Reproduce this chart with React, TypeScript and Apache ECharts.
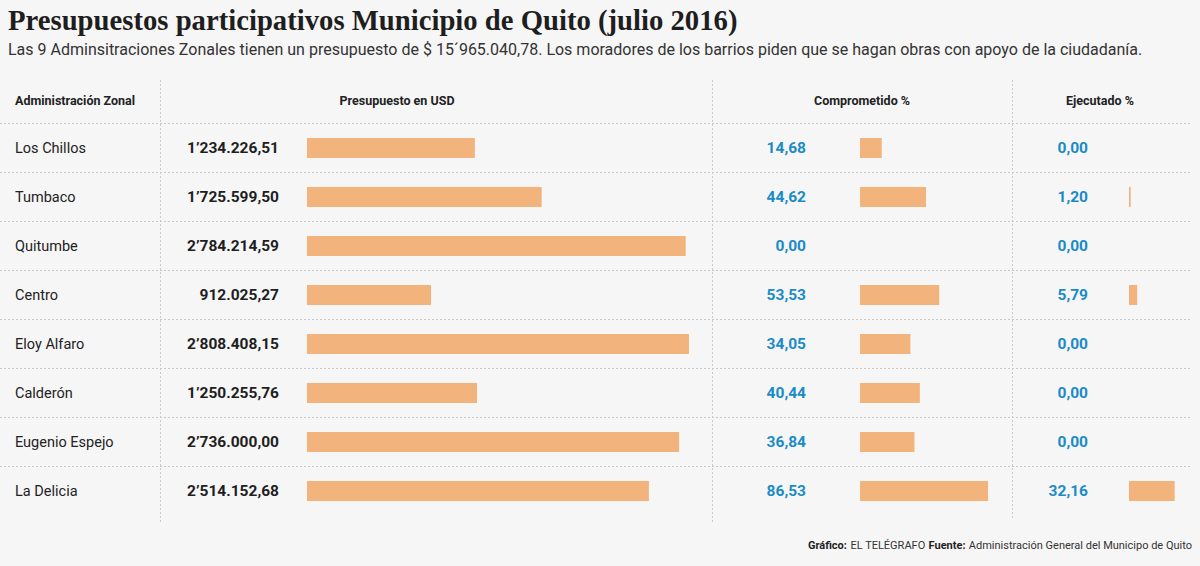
import React, { useEffect, useRef } from "react";
import * as echarts from "echarts";

const zones = ["Los Chillos", "Tumbaco", "Quitumbe", "Centro", "Eloy Alfaro", "Calderón", "Eugenio Espejo", "La Delicia"];
const budget = [1234226.51, 1725599.5, 2784214.59, 912025.27, 2808408.15, 1250255.76, 2736000.0, 2514152.68];
const committed = [14.68, 44.62, 0.0, 53.53, 34.05, 40.44, 36.84, 86.53];
const executed = [0.0, 1.2, 0.0, 5.79, 0.0, 0.0, 0.0, 32.16];
const headers = ["Administración Zonal", "Presupuesto en USD", "Comprometido %", "Ejecutado %"];

const FONT = "Roboto, 'Open Sans', sans-serif";
const BAR = "#f2b37c";

function fmtBudget(v: number): string {
  const fixed = v.toFixed(2);
  const [intPart, dec] = fixed.split(".");
  const millions = Math.floor(Number(intPart) / 1000000);
  const rest = intPart.slice(-6);
  const thousands = rest.slice(0, 3);
  const units = rest.slice(3);
  if (millions > 0) return `${millions}’${thousands}.${units},${dec}`;
  return `${Number(thousands)}.${units},${dec}`;
}
function fmtPct(v: number): string {
  return v.toFixed(2).replace(".", ",");
}

export default function App() {
  const ref = useRef<HTMLDivElement>(null);
  useEffect(() => {
    if (!ref.current) return;
    const chart = echarts.init(ref.current, null, { renderer: "svg" });
    const gridTop = 123.5;
    const gridH = 392;
    const rowH = gridH / zones.length;
    const hLines: any[] = [];
    for (let i = 0; i < zones.length; i++) {
      const y = Math.round(gridTop + rowH * i) - 0.5;
      hLines.push({
        type: "line",
        shape: { x1: 0, y1: y, x2: 1192, y2: y },
        style: { stroke: "#c9c9c9", lineWidth: 1, lineDash: [2, 2] },
        silent: true,
      });
    }
    const vLines = [
      [160, 524],
      [712, 524],
      [1012, 520],
    ].map(([x, y2]) => ({
      type: "line",
      shape: { x1: x + 0.5, y1: 80, x2: x + 0.5, y2 },
      style: { stroke: "#c9c9c9", lineWidth: 1, lineDash: [2, 2] },
      silent: true,
    }));
    const headerStyle = { fontFamily: FONT, fontSize: 12.5, fontWeight: "bold", fill: "#222" };
    const mkY = (gi: number, show: boolean) => ({
      type: "category",
      gridIndex: gi,
      data: zones,
      inverse: true,
      axisLine: { show: false },
      axisTick: { show: false },
      splitLine: { show: false },
      axisLabel: show
        ? { show: true, align: "left", margin: 292, fontFamily: FONT, fontSize: 14.5, color: "#222" }
        : { show: false },
    });
    const mkX = (gi: number, max: number) => ({
      type: "value",
      gridIndex: gi,
      min: 0,
      max,
      show: false,
    });
    const valueLabel = (distance: number, color: string, fmt: (v: number) => string) => ({
      show: true,
      position: "left",
      distance,
      fontFamily: FONT,
      fontSize: 15.5,
      fontWeight: "bold",
      color,
      formatter: (p: any) => fmt(p.value),
    });
    const option: any = {
      animation: false,
      backgroundColor: "#f6f6f6",
      grid: [
        { left: 307, top: gridTop, width: 408, height: gridH },
        { left: 860, top: gridTop, width: 148, height: gridH },
        { left: 1129, top: gridTop, width: 74, height: gridH },
      ],
      xAxis: [mkX(0, 3000000), mkX(1, 100), mkX(2, 50)],
      yAxis: [mkY(0, true), mkY(1, false), mkY(2, false)],
      series: [
        {
          type: "bar",
          xAxisIndex: 0,
          yAxisIndex: 0,
          data: budget,
          barWidth: 20,
          itemStyle: { color: BAR },
          label: valueLabel(28, "#1e1e1e", fmtBudget),
        },
        {
          type: "bar",
          xAxisIndex: 1,
          yAxisIndex: 1,
          data: committed,
          barWidth: 20,
          itemStyle: { color: BAR },
          label: valueLabel(54, "#1b8bc8", fmtPct),
        },
        {
          type: "bar",
          xAxisIndex: 2,
          yAxisIndex: 2,
          data: executed,
          barWidth: 20,
          itemStyle: { color: BAR },
          label: valueLabel(41, "#1b8bc8", fmtPct),
        },
      ],
      graphic: [
        ...hLines,
        ...vLines,
        {
          type: "text",
          left: 8,
          top: 5,
          style: {
            text: "Presupuestos participativos Municipio de Quito (julio 2016)",
            fontFamily: "'Liberation Serif', 'DejaVu Serif', serif",
            fontSize: 28.7,
            fontWeight: "bold",
            fill: "#1e1e1e",
          },
        },
        {
          type: "text",
          left: 8,
          top: 41,
          style: {
            text: "Las 9 Adminsitraciones Zonales tienen un presupuesto de $ 15´965.040,78. Los moradores de los barrios piden que se hagan obras con apoyo de la ciudadanía.",
            fontFamily: FONT,
            fontSize: 16,
            fill: "#333",
          },
        },
        { type: "text", x: 15, y: 100, style: { ...headerStyle, text: headers[0], textVerticalAlign: "middle" } },
        { type: "text", x: 397, y: 100, style: { ...headerStyle, text: headers[1], textAlign: "center", textVerticalAlign: "middle" } },
        { type: "text", x: 862, y: 100, style: { ...headerStyle, text: headers[2], textAlign: "center", textVerticalAlign: "middle" } },
        { type: "text", x: 1100, y: 100, style: { ...headerStyle, text: headers[3], textAlign: "center", textVerticalAlign: "middle" } },
        {
          type: "text",
          x: 1192,
          y: 545,
          style: {
            text: "{b|Gráfico:} {r|EL TELÉGRAFO} {b|Fuente:} {r|Administración General del Municipo de Quito}",
            textAlign: "right",
            textVerticalAlign: "middle",
            rich: {
              b: { fontFamily: FONT, fontSize: 11, fontWeight: "bold", fill: "#1e1e1e", color: "#1e1e1e" },
              r: { fontFamily: FONT, fontSize: 11, fill: "#333", color: "#333" },
            },
          },
        },
      ],
    };
    chart.setOption(option);
    return () => chart.dispose();
  }, []);
  return <div ref={ref} style={{ position: "fixed", left: 0, top: 0, width: 1200, height: 566 }} />;
}
